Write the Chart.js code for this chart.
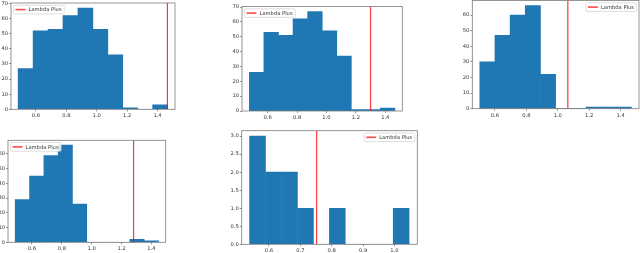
<!DOCTYPE html>
<html><head><meta charset="utf-8">
<script src="https://cdn.jsdelivr.net/npm/chart.js@4.4.0/dist/chart.umd.min.js"></script>
<style>
html,body{margin:0;padding:0;background:#fff;width:640px;height:253px;overflow:hidden}
canvas{position:absolute;left:0;top:0}
</style></head><body>
<script>
// ---------- data ----------
const legendLabel = 'Lambda Plus';
const xTicksA = [0.6, 0.8, 1.0, 1.2, 1.4];
const xTicks5 = [0.6, 0.7, 0.8, 0.9, 1.0];
const yTicks70 = [0, 10, 20, 30, 40, 50, 60, 70];
const yTicks60 = [0, 10, 20, 30, 40, 50, 60];
const yTicks5 = [0, 0.5, 1.0, 1.5, 2.0, 2.5, 3.0];

const edges1 = [0.483, 0.581, 0.680, 0.778, 0.876, 0.975, 1.073, 1.171, 1.270, 1.368, 1.466];
const counts1 = [27, 52, 53, 62, 67, 53, 36, 1, 0, 3];
const lambda1 = 1.465;

const edges2 = [0.475, 0.574, 0.673, 0.772, 0.872, 0.971, 1.070, 1.169, 1.268, 1.367, 1.466];
const counts2 = [26, 53, 51, 62, 67, 54, 37, 1, 1, 2];
const lambda2 = 1.30;

const edges3 = [0.504, 0.600, 0.697, 0.793, 0.890, 0.986, 1.083, 1.179, 1.276, 1.372, 1.469];
const counts3 = [30, 47, 60, 66, 22, 0, 0, 1, 1, 1];
const lambda3 = 1.064;

const edges4 = [0.488, 0.584, 0.680, 0.776, 0.871, 0.967, 1.063, 1.159, 1.255, 1.351, 1.447];
const counts4 = [29, 45, 59, 66, 26, 0, 0, 0, 2, 1];
const lambda4 = 1.28;

const edges5 = [0.538, 0.589, 0.640, 0.691, 0.742, 0.793, 0.843, 0.894, 0.945, 0.996, 1.047];
const counts5 = [3, 2, 2, 1, 0, 1, 0, 0, 0, 1];
const lambda5 = 0.752;

// ---------- layout / style ----------
const W = 640, H = 253;
const FONT = '"DejaVu Sans", sans-serif';
const FS = 5.2;
const BAR = '#1f77b4';
const AXC = '#7a7a7a';

const panels = [
  {edges: edges1, counts: counts1, lambda: lambda1, xTicks: xTicksA, yTicks: yTicks70, yDec: false,
   box: {l: 11, t: 3, r: 175, b: 109.3}, xMin: 0.436, xMax: 1.515, yMax: 70.35, side: 'left'},
  {edges: edges2, counts: counts2, lambda: lambda2, xTicks: xTicksA, yTicks: yTicks70, yDec: false,
   box: {l: 242, t: 6.5, r: 402.3, b: 111}, xMin: 0.425, xMax: 1.516, yMax: 70.35, side: 'left'},
  {edges: edges3, counts: counts3, lambda: lambda3, xTicks: xTicksA, yTicks: yTicks60, yDec: false,
   box: {l: 472.3, t: 0.5, r: 639, b: 108.7}, xMin: 0.456, xMax: 1.517, yMax: 69.3, side: 'right'},
  {edges: edges4, counts: counts4, lambda: lambda4, xTicks: xTicksA, yTicks: yTicks60, yDec: false,
   box: {l: 8, t: 140.3, r: 165.7, b: 242.3}, xMin: 0.440, xMax: 1.495, yMax: 69.3, side: 'left'},
  {edges: edges5, counts: counts5, lambda: lambda5, xTicks: xTicks5, yTicks: yTicks5, yDec: true,
   box: {l: 241.7, t: 130.7, r: 417.3, b: 244.3}, xMin: 0.513, xMax: 1.073, yMax: 3.15, side: 'right'}
];

const framePlugin = {
  id: 'frame',
  afterDatasetsDraw(chart) {
    const {ctx, chartArea: a} = chart;
    ctx.save();
    ctx.strokeStyle = AXC;
    ctx.lineWidth = 0.8;
    ctx.strokeRect(a.left, a.top, a.right - a.left, a.bottom - a.top);
    ctx.restore();
  }
};

const legendPlugin = {
  id: 'boxLegend',
  afterDraw(chart, args, opts) {
    const {ctx, chartArea: a} = chart;
    ctx.save();
    ctx.font = FS + 'px ' + FONT;
    const tw = ctx.measureText(legendLabel).width;
    const w = 2 + 10 + 3 + tw + 2.5, h = 8.6;
    const x = opts.side === 'right' ? a.right - 2.5 - w : a.left + 2.5;
    const y = a.top + 2.3;
    ctx.beginPath();
    if (ctx.roundRect) ctx.roundRect(x, y, w, h, 1.2); else ctx.rect(x, y, w, h);
    ctx.fillStyle = 'rgba(255,255,255,0.85)';
    ctx.fill();
    ctx.strokeStyle = '#d0d0d0';
    ctx.lineWidth = 0.7;
    ctx.stroke();
    const ly = y + h / 2;
    ctx.beginPath();
    ctx.moveTo(x + 2, ly);
    ctx.lineTo(x + 12, ly);
    ctx.strokeStyle = 'rgba(255,40,40,0.85)';
    ctx.lineWidth = 1.6;
    ctx.stroke();
    ctx.fillStyle = '#333';
    ctx.textBaseline = 'middle';
    ctx.textAlign = 'left';
    ctx.fillText(legendLabel, x + 15, y + h / 2 + 0.3);
    ctx.restore();
  }
};

panels.forEach((p) => {
  const cv = document.createElement('canvas');
  cv.width = W; cv.height = H;
  cv.style.width = W + 'px'; cv.style.height = H + 'px';
  document.body.appendChild(cv);

  const YW = Math.min(16, p.box.l);
  const XH = Math.min(10, H - p.box.b);

  const bars = p.counts.map((c, i) => ({x: (p.edges[i] + p.edges[i + 1]) / 2, y: c}));
  const vline = [{x: p.lambda, y: 0}, {x: p.lambda, y: p.yMax}];

  const gridOpts = {display: true, drawOnChartArea: false, drawTicks: true, tickLength: 2,
                    color: AXC, lineWidth: 0.8, offset: false};
  const tickFont = {family: FONT, size: FS};

  new Chart(cv, {
    data: {
      datasets: [
        {type: 'line', label: legendLabel, data: vline, borderColor: 'rgba(255,0,0,0.78)',
         borderWidth: 1.2, pointRadius: 0, pointHoverRadius: 0, fill: false, order: 0},
        {type: 'bar', label: 'hist', data: bars, backgroundColor: BAR, borderWidth: 0,
         barPercentage: 1, categoryPercentage: 1, order: 1}
      ]
    },
    options: {
      responsive: false,
      animation: false,
      devicePixelRatio: 1,
      events: [],
      layout: {
        autoPadding: false,
        padding: {left: p.box.l - YW, top: p.box.t, right: W - p.box.r, bottom: H - p.box.b - XH}
      },
      plugins: {legend: {display: false}, tooltip: {enabled: false}, boxLegend: {side: p.side}},
      scales: {
        x: {
          type: 'linear', min: p.xMin, max: p.xMax, offset: false,
          grid: gridOpts, border: {display: false},
          ticks: {font: tickFont, color: '#333', padding: 1.5, maxRotation: 0, autoSkip: false,
                  callback: v => Number(v).toFixed(1)},
          afterBuildTicks: s => { s.ticks = p.xTicks.map(v => ({value: v})); },
          afterFit: s => { s.height = XH; s.paddingLeft = 0; s.paddingRight = 0; }
        },
        y: {
          type: 'linear', min: 0, max: p.yMax,
          grid: gridOpts, border: {display: false},
          ticks: {font: tickFont, color: '#333', padding: 1, autoSkip: false,
                  callback: v => p.yDec ? Number(v).toFixed(1) : String(v)},
          afterBuildTicks: s => { s.ticks = p.yTicks.map(v => ({value: v})); },
          afterFit: s => { s.width = YW; s.paddingTop = 0; s.paddingBottom = 0; }
        }
      }
    },
    plugins: [framePlugin, legendPlugin]
  });
});
</script>
</body></html>
